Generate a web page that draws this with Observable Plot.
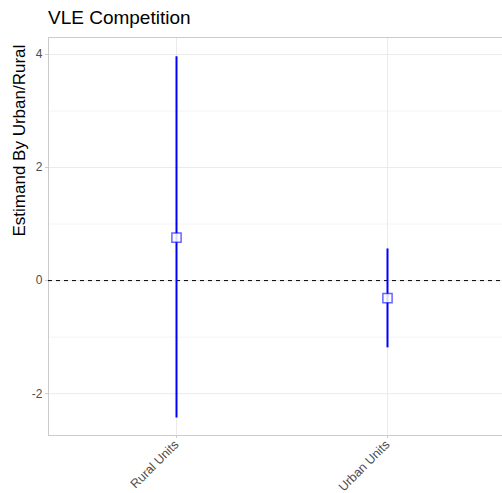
<!DOCTYPE html>
<html><head><meta charset="utf-8">
<script src="https://cdn.jsdelivr.net/npm/d3@7"></script>
<script src="https://cdn.jsdelivr.net/npm/@observablehq/plot@0.6"></script>
<style>
body{margin:0;overflow:hidden;background:#fff;font-family:Arial,"Liberation Sans",sans-serif}
#wrap{position:relative;width:502px;height:493px;overflow:hidden}
#title{position:absolute;left:48px;top:7px;font-size:19px;line-height:22px;color:#000;white-space:nowrap}
#chart{position:absolute;left:0;top:30px;width:516px}
#chart svg{max-width:none !important}
</style></head><body>
<div id="wrap"><div id="title">VLE Competition</div><div id="chart"></div></div>
<script>
const categories = ["Rural Units", "Urban Units"];
const estimates = [0.76, -0.31];
const lower = [-2.43, -1.19];
const upper = [3.96, 0.56];
const yTicks = [-2, 0, 2, 4];
const yMinor = [-1, 1, 3];
const refLine = [0];
const yLabel = "Estimand By Urban/Rural";

const data = categories.map((c, i) => ({cat: c, est: estimates[i], lo: lower[i], hi: upper[i]}));

const chart = Plot.plot({
  width: 516, height: 463,
  marginTop: 7, marginLeft: 48, marginRight: 2, marginBottom: 58,
  style: {fontFamily: "Arial, 'Liberation Sans', sans-serif", fontSize: "12px", background: "white", overflow: "visible", maxWidth: "none"},
  x: {type: "point", domain: categories, padding: 0.6, axis: null},
  y: {domain: [-2.74, 4.30], axis: null},
  marks: [
    Plot.gridY(yMinor, {stroke: "#f4f4f4", strokeOpacity: 1, strokeWidth: 1}),
    Plot.gridY(yTicks, {stroke: "#ebebeb", strokeOpacity: 1, strokeWidth: 1}),
    Plot.gridX(categories, {stroke: "#ebebeb", strokeOpacity: 1, strokeWidth: 1}),
    Plot.frame({stroke: "#cccccc"}),
    Plot.axisY(yTicks, {tickSize: 3, tickPadding: 3, stroke: "#cccccc", color: "#4d4d4d", fontSize: 12, label: null, tickFormat: d => String(d)}),
    Plot.axisX(categories, {tickSize: 3, tickPadding: 4, tickRotate: -45, stroke: "#cccccc", color: "#4d4d4d", fontSize: 12.5, label: null}),
    Plot.text([yLabel], {frameAnchor: "left", dx: -29, rotate: -90, fontSize: 17, fill: "black"}),
    Plot.ruleY(refLine, {stroke: "black", strokeDasharray: "4,4", strokeWidth: 1}),
    Plot.ruleX(data, {x: "cat", y1: "lo", y2: "hi", stroke: "#0000ff", strokeWidth: 2}),
    Plot.dot(data, {x: "cat", y: "est", symbol: "square", r: 5.2, fill: "white", fillOpacity: 0.85, stroke: "#0000ff", strokeOpacity: 0.6, strokeWidth: 1.5})
  ]
});
document.getElementById("chart").appendChild(chart);
</script>
</body></html>
